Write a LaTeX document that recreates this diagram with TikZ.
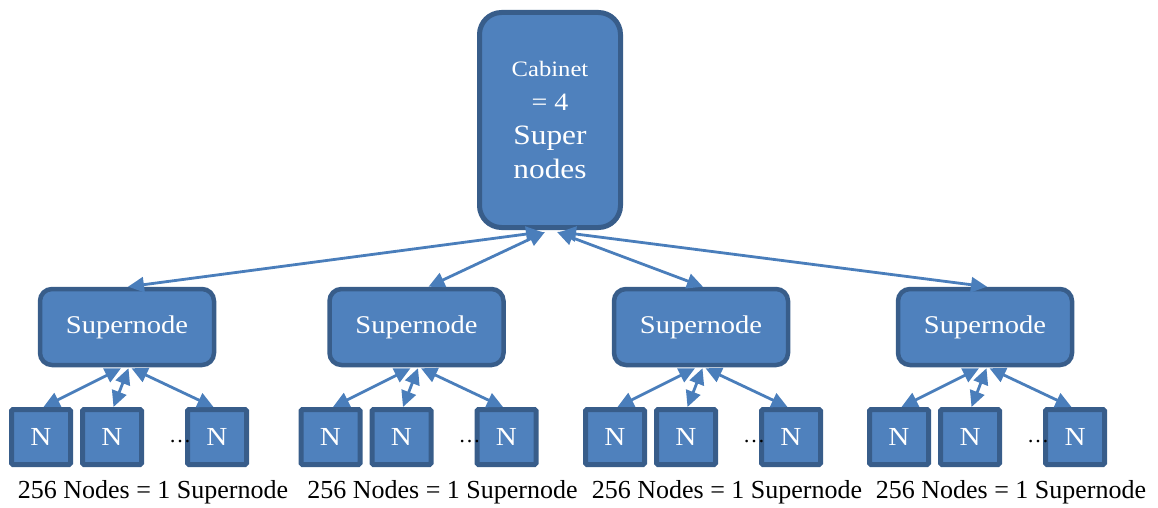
\documentclass[tikz,border=0pt]{standalone}
\usepackage{fontspec}
\setmainfont{Liberation Serif}
\newfontfamily\boxfont[FakeStretch=1.12]{Liberation Serif}
\usetikzlibrary{arrows.meta,calc}
\definecolor{bfill}{HTML}{4F81BD}
\definecolor{bdraw}{HTML}{385D8A}
\definecolor{aline}{HTML}{4A7EBB}
\begin{document}
\begin{tikzpicture}[x=1pt,y=-1pt,
 box/.style={fill=bfill,draw=bdraw,text=white,inner sep=0pt},
 cabbox/.style={box,line width=5pt,rounded corners=22pt,minimum width=141pt,minimum height=215pt,align=center,font=\boxfont\fontsize{28}{34}\selectfont},
 snbox/.style={box,line width=4.5pt,rounded corners=12pt,minimum width=174pt,minimum height=76pt,font=\boxfont\fontsize{25.5}{30}\selectfont},
 nbox/.style={box,line width=5pt,rounded corners=1.5pt,minimum width=59pt,minimum height=55pt,font=\boxfont\fontsize{26}{30}\selectfont},
 link/.style={draw=aline,line width=2.8pt,{Triangle[length=16pt,width=15pt]}-{Triangle[length=16pt,width=15pt]}},
 captext/.style={font=\fontsize{26}{30}\selectfont,anchor=base,inner sep=0pt},
 dotstext/.style={font=\fontsize{22}{26}\selectfont,anchor=base,inner sep=0pt}
]
\useasboundingbox (0,0) rectangle (1158,508);
\node[cabbox] (cab) at (550,120) {{\fontsize{22}{24}\selectfont Cabinet}\\{\fontsize{25}{28}\selectfont = 4}\\Super\\nodes};
\foreach \i/\x in {1/127,2/416.5,3/701,4/985} {
  \node[snbox] (s\i) at (\x,327) {Supernode};
  \node[nbox] (n\i-1) at (\x-86,437) {N};
  \node[nbox] (n\i-2) at (\x-15,437) {N};
  \node[nbox] (n\i-3) at (\x+90,437) {N};
  \node[dotstext] (d\i) at ($(n\i-3.west)+(-5,5)$) {\ldots};
  \node[captext] (c\i) at (\x+26,498) {256 Nodes = 1 Supernode};
  \draw[link] ($(s\i.south)+(-6,1)$) -- ($(n\i-1.north)+(2.5,0)$);
  \draw[link] ($(s\i.south)+(1.5,1)$) -- ($(n\i-2.north)+(1.5,0)$);
  \draw[link] ($(s\i.south)+(4.5,1)$) -- ($(n\i-3.north)+(-3.5,0)$);
}
\draw[link] ($(cab.south)+(-8,2)$) -- ($(s1.north)+(1,0)$);
\draw[link] ($(cab.south)+(-5,2)$) -- ($(s2.north)+(12,0)$);
\draw[link] ($(cab.south)+(7,2)$) -- ($(s3.north)+(2,0)$);
\draw[link] ($(cab.south)+(10,2)$) -- ($(s4.north)+(2,0)$);
\end{tikzpicture}
\end{document}
